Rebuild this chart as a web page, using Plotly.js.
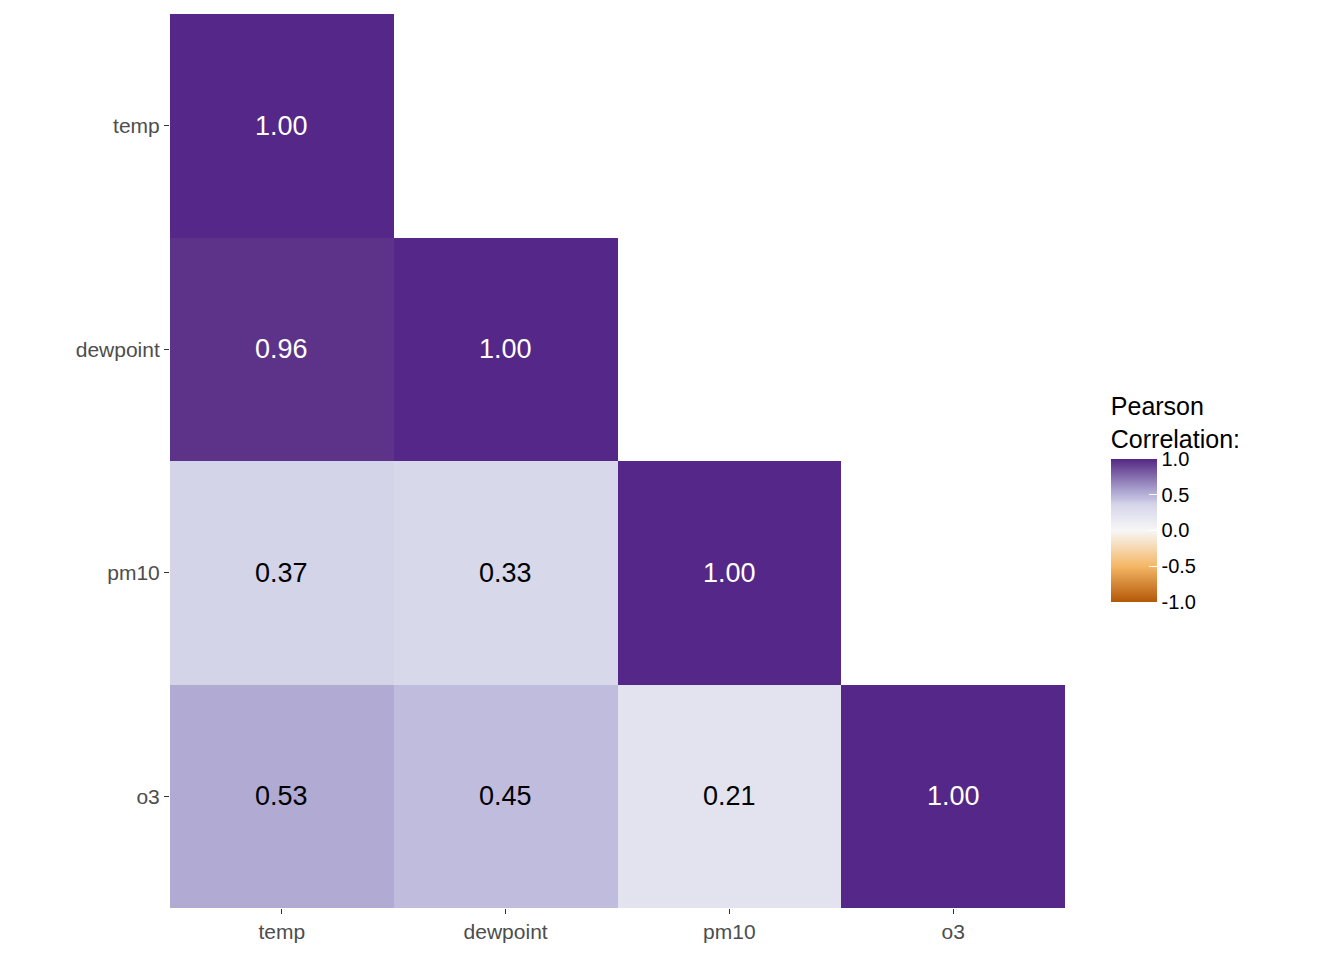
<!DOCTYPE html>
<html>
<head>
<script src="https://cdn.plot.ly/plotly-3.0.1.min.js"></script>
<style>body{margin:0;}</style>
</head>
<body>
<div id="chart" style="width:1344px;height:960px;"></div>
<script>
var vars = ['temp', 'dewpoint', 'pm10', 'o3'];
// rows = y variable, cols = x variable; null = upper triangle left blank
var corr = [
    [1.00, null, null, null],
    [0.96, 1.00, null, null],
    [0.37, 0.33, 1.00, null],
    [0.53, 0.45, 0.21, 1.00]
];

var annotations = [];
for (var i = 0; i < vars.length; i++) {
    for (var j = 0; j < vars.length; j++) {
        var v = corr[i][j];
        if (v === null) continue;
        annotations.push({
            x: vars[j], y: vars[i], text: v.toFixed(2), showarrow: false,
            font: {size: 27, color: v > 0.8 ? 'white' : 'black', family: 'Liberation Sans'}
        });
    }
}

var trace = {
    type: 'heatmap',
    x: vars, y: vars, z: corr,
    zmin: -1, zmax: 1,
    hoverongaps: false,
    colorscale: [[0, '#B35806'], [0.25, '#F5B766'], [0.5, '#F7F7F7'], [0.6, '#E4E4F0'],
                 [0.685, '#D4D4E9'], [0.725, '#C0BCDD'], [0.765, '#B1ABD4'], [0.98, '#5C3389'], [1, '#542788']],
    colorbar: {
        title: {text: 'Pearson<br>Correlation:', font: {size: 25, family: 'Liberation Sans', color: 'black'}},
        tickvals: [1, 0.5, 0, -0.5, -1],
        ticktext: ['1.0', '0.5', '0.0', '-0.5', '-1.0'],
        tickfont: {size: 20, family: 'Liberation Sans', color: 'black'},
        thickness: 46, len: 228, lenmode: 'pixels',
        x: 1.04, xanchor: 'left', y: 0.459, yanchor: 'middle',
        outlinewidth: 0, ticks: 'inside', ticklen: 8, tickcolor: 'white'
    }
};

var layout = {
    width: 1344, height: 960,
    margin: {l: 170, r: 279, t: 14, b: 52},
    plot_bgcolor: 'white', paper_bgcolor: 'white',
    font: {family: 'Liberation Sans'},
    xaxis: {type: 'category', showgrid: false, zeroline: false, ticks: 'outside', ticklen: 5, tickcolor: '#333',
            tickfont: {size: 21, color: '#4d4d4d'}},
    yaxis: {type: 'category', autorange: 'reversed', showgrid: false, zeroline: false, ticks: 'outside', ticklen: 5,
            tickcolor: '#333', tickfont: {size: 21, color: '#4d4d4d'}},
    annotations: annotations
};

Plotly.newPlot('chart', [trace], layout, {displayModeBar: false});
</script>
</body>
</html>
